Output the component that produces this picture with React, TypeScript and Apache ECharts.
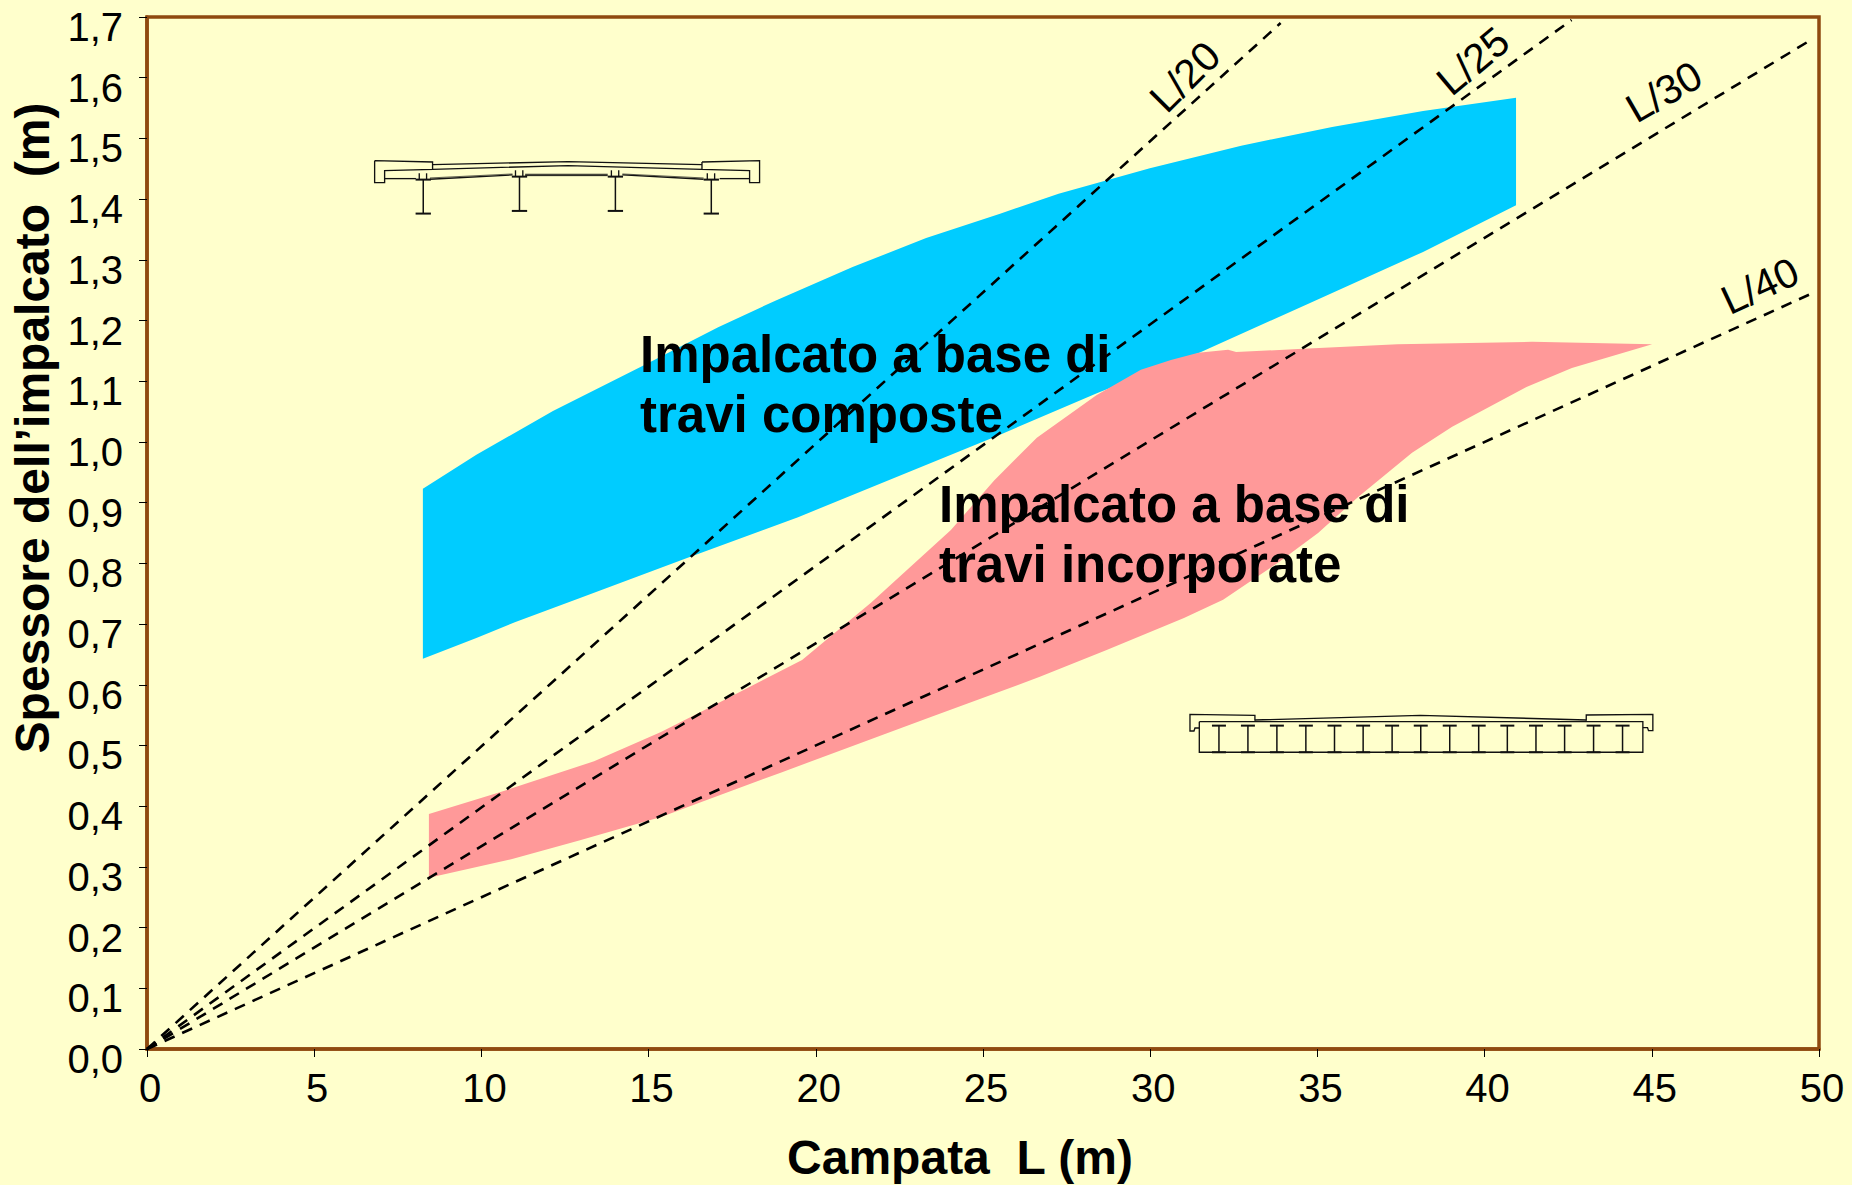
import React, { useEffect, useRef } from "react";
import * as echarts from "echarts";

const xTicks = { min: 0, max: 50, interval: 5 };
const yTicks = { min: 0, max: 1.7, interval: 0.1 };

const compositeUpper = [
  [8.25, 0.923], [9.85, 0.979], [12.14, 1.051], [14.89, 1.127], [17.08, 1.189], [18.84, 1.234],
  [21.1, 1.288], [23.3, 1.336], [25.51, 1.376], [27.26, 1.409], [29.99, 1.451], [32.72, 1.488], [35.44, 1.519], [38.16, 1.545], [40.94, 1.567],
];
const compositeLower = [
  [40.94, 1.39], [38.16, 1.313], [34.78, 1.229], [31.47, 1.147], [28.44, 1.081], [25.51, 1.012],
  [19.47, 0.876], [16.15, 0.809], [12.95, 0.743], [11.0, 0.703], [9.85, 0.677], [8.25, 0.643],
];
const embeddedUpper = [
  [8.43, 0.387], [10.5, 0.422], [13.37, 0.474], [15.37, 0.522], [16.84, 0.563], [19.59, 0.641],
  [21.65, 0.735], [24.04, 0.855], [25.34, 0.937], [26.61, 1.007], [28.39, 1.077], [29.72, 1.119],
  [30.62, 1.135], [31.44, 1.147], [32.33, 1.152], [32.57, 1.148], [34.42, 1.153], [37.4, 1.161],
  [41.42, 1.165], [45.01, 1.161],
];
const embeddedLower = [
  [42.61, 1.122], [41.27, 1.091], [39.03, 1.025], [37.83, 0.982], [36.21, 0.909], [35.02, 0.85],
  [33.82, 0.801], [32.18, 0.74], [31.01, 0.71], [28.68, 0.657], [26.7, 0.613], [23.44, 0.547],
  [18.99, 0.456], [15.37, 0.382], [12.95, 0.344], [10.92, 0.313], [8.43, 0.282],
];
const ratioL20 = [[0, 0], [33.9, 1.69]];
const ratioL25 = [[0, 0], [42.6, 1.695]];
const ratioL30 = [[0, 0], [49.75, 1.662]];
const ratioL40 = [[0, 0], [49.7, 1.2425]];

const xName = "Campata  L (m)";
const yName = "Spessore dell\u2019impalcato  (m)";
const compositeLabel = "Impalcato a base di\ntravi composte";
const embeddedLabel = "Impalcato a base di\ntravi incorporate";

const FONT = "Liberation Sans";
const BG = "#FFFFCC";
const FRAME = "#8F4A0F";

const pl = (points: number[][], lineWidth = 4) => ({
  type: "polyline",
  shape: { points },
  style: { stroke: "#111", fill: null, lineWidth },
  silent: true,
});

function iBeam(x: number, top: number, bottom: number, half: number, w = 4.5) {
  return [
    pl([[x - half, top], [x + half, top]], 6),
    pl([[x, top], [x, bottom]], w),
    pl([[x - half, bottom], [x + half, bottom]], 6),
  ];
}

function compositeDeck() {
  const children: any[] = [
    pl([[104, 92], [278, 96], [278, 118], [134, 122], [134, 158], [104, 158], [104, 92]]),
    pl([[1087, 96], [1260, 92], [1260, 158], [1230, 158], [1230, 122], [1087, 118], [1087, 96]]),
    pl([[278, 104], [685, 95], [1087, 104]]),
    pl([[278, 118], [685, 107], [1087, 118]]),
    pl([[134, 146], [228, 146]]),
    pl([[1140, 146], [1230, 146]]),
    pl([[270, 148], [518, 135]]),
    pl([[270, 144], [518, 132]], 2),
    pl([[556, 137], [804, 137]], 3),
    pl([[556, 133], [804, 133]], 3),
    pl([[848, 135], [1092, 148]]),
    pl([[848, 132], [1092, 144]], 2),
  ];
  [[250, 149, 251], [539, 140, 243], [827, 140, 243], [1115, 149, 251]].forEach(([x, t, b]) => {
    children.push(...iBeam(x, t, b, 23));
    children.push(pl([[x - 12, t], [x - 12, t - 19]], 4), pl([[x + 10, t], [x + 10, t - 19]], 4));
  });
  return { type: "group", x: 340, y: 130, scaleX: 1 / 3, scaleY: 1 / 3, silent: true, children };
}

function embeddedDeck() {
  const children: any[] = [
    pl([[255, 92], [255, 76], [60, 73], [60, 123], [72, 123], [75, 114], [88, 114]]),
    pl([[1250, 92], [1250, 75], [1450, 73], [1450, 122], [1437, 122], [1434, 113], [1420, 113]]),
    pl([[255, 90], [752, 76], [1250, 90]]),
    pl([[88, 95], [1420, 95], [1420, 187], [88, 187], [88, 95]]),
  ];
  [147, 234, 321, 408, 494, 580, 667, 753, 840, 927, 1013, 1099, 1185, 1272, 1359].forEach((x) => {
    children.push(...iBeam(x, 107, 187, 21));
  });
  return { type: "group", x: 1170, y: 690, scaleX: 1 / 3, scaleY: 1 / 3, silent: true, children };
}

function polygonSeries(points: number[][], color: string, z: number) {
  return {
    type: "custom",
    coordinateSystem: "cartesian2d",
    z,
    silent: true,
    clip: false,
    data: points,
    encode: { x: 0, y: 1 },
    renderItem: (params: any, api: any) => {
      if (params.dataIndex !== 0) return null;
      return {
        type: "polygon",
        shape: { points: points.map((p) => api.coord(p)) },
        style: { fill: color, stroke: "none" },
      };
    },
  };
}

function ratioSeries(data: number[][], name: string) {
  return {
    type: "line",
    name,
    data,
    z: 5,
    symbol: "none",
    silent: true,
    lineStyle: { color: "#000", width: 2.6, type: [11, 8.3] },
  };
}

const rotatedLabel = (text: string, x: number, y: number, deg: number) => ({
  type: "text",
  x,
  y,
  rotation: (deg * Math.PI) / 180,
  z: 20,
  silent: true,
  style: {
    text,
    fill: "#000",
    font: `41px "${FONT}"`,
    align: "center",
    verticalAlign: "middle",
  },
});

const blockLabel = (text: string, x: number, y: number) => ({
  type: "text",
  x,
  y,
  z: 20,
  silent: true,
  style: {
    text,
    fill: "#000",
    font: `bold 51px "${FONT}"`,
    lineHeight: 60,
    align: "left",
    verticalAlign: "top",
  },
});

export default function App() {
  const ref = useRef<HTMLDivElement>(null);
  useEffect(() => {
    document.body.style.margin = "0";
    document.body.style.background = BG;
    const chart = echarts.init(ref.current!, undefined, { renderer: "svg" });
    chart.setOption({
      animation: false,
      backgroundColor: BG,
      textStyle: { fontFamily: FONT },
      grid: {
        left: 147,
        top: 17,
        width: 1672,
        height: 1032,
        outerBoundsMode: "none",
        show: true,
        backgroundColor: "transparent",
        borderColor: FRAME,
        borderWidth: 3.5,
      },
      xAxis: {
        type: "value",
        ...xTicks,
        splitLine: { show: false },
        axisLine: { onZero: false, lineStyle: { color: FRAME, width: 3.5 } },
        axisTick: { length: 8, lineStyle: { color: "#000", width: 1 } },
        axisLabel: { color: "#000", fontSize: 40, fontFamily: FONT, margin: 19, padding: [0, 0, 0, 6], showMinLabel: true, showMaxLabel: true },
        name: xName,
        nameLocation: "middle",
        nameGap: 84,
        nameTextStyle: { color: "#000", fontSize: 48, fontWeight: "bold", fontFamily: FONT, padding: [0, 46, 0, 0] },
      },
      yAxis: {
        type: "value",
        ...yTicks,
        splitLine: { show: false },
        axisLine: { onZero: false, lineStyle: { color: FRAME, width: 3.5 } },
        axisTick: { length: 8, lineStyle: { color: "#000", width: 1 } },
        axisLabel: {
          color: "#000",
          fontSize: 40,
          fontFamily: FONT,
          margin: 24,
          verticalAlign: "top",
          lineHeight: 20,
          formatter: (v: number) => v.toFixed(1).replace(".", ","),
        },
        name: yName,
        nameLocation: "middle",
        nameRotate: 90,
        nameGap: 88,
        nameTextStyle: { color: "#000", fontSize: 48, fontWeight: "bold", fontFamily: FONT, padding: [0, 0, 0, 210] },
      },
      series: [
        polygonSeries([...compositeUpper, ...compositeLower], "#00CCFF", 2),
        polygonSeries([...embeddedUpper, ...embeddedLower], "#FF9999", 3),
        ratioSeries(ratioL20, "L/20"),
        ratioSeries(ratioL25, "L/25"),
        ratioSeries(ratioL30, "L/30"),
        ratioSeries(ratioL40, "L/40"),
      ],
      graphic: [
        rotatedLabel("L/20", 1185, 77, 45),
        rotatedLabel("L/25", 1473, 61, 40),
        rotatedLabel("L/30", 1664, 92, 30),
        rotatedLabel("L/40", 1760, 286, 25),
        blockLabel(compositeLabel, 640, 324),
        blockLabel(embeddedLabel, 939, 474),
        compositeDeck(),
        embeddedDeck(),
      ],
    });
    return () => chart.dispose();
  }, []);
  return <div ref={ref} style={{ position: "fixed", left: 0, top: 0, width: 1852, height: 1185 }} />;
}
